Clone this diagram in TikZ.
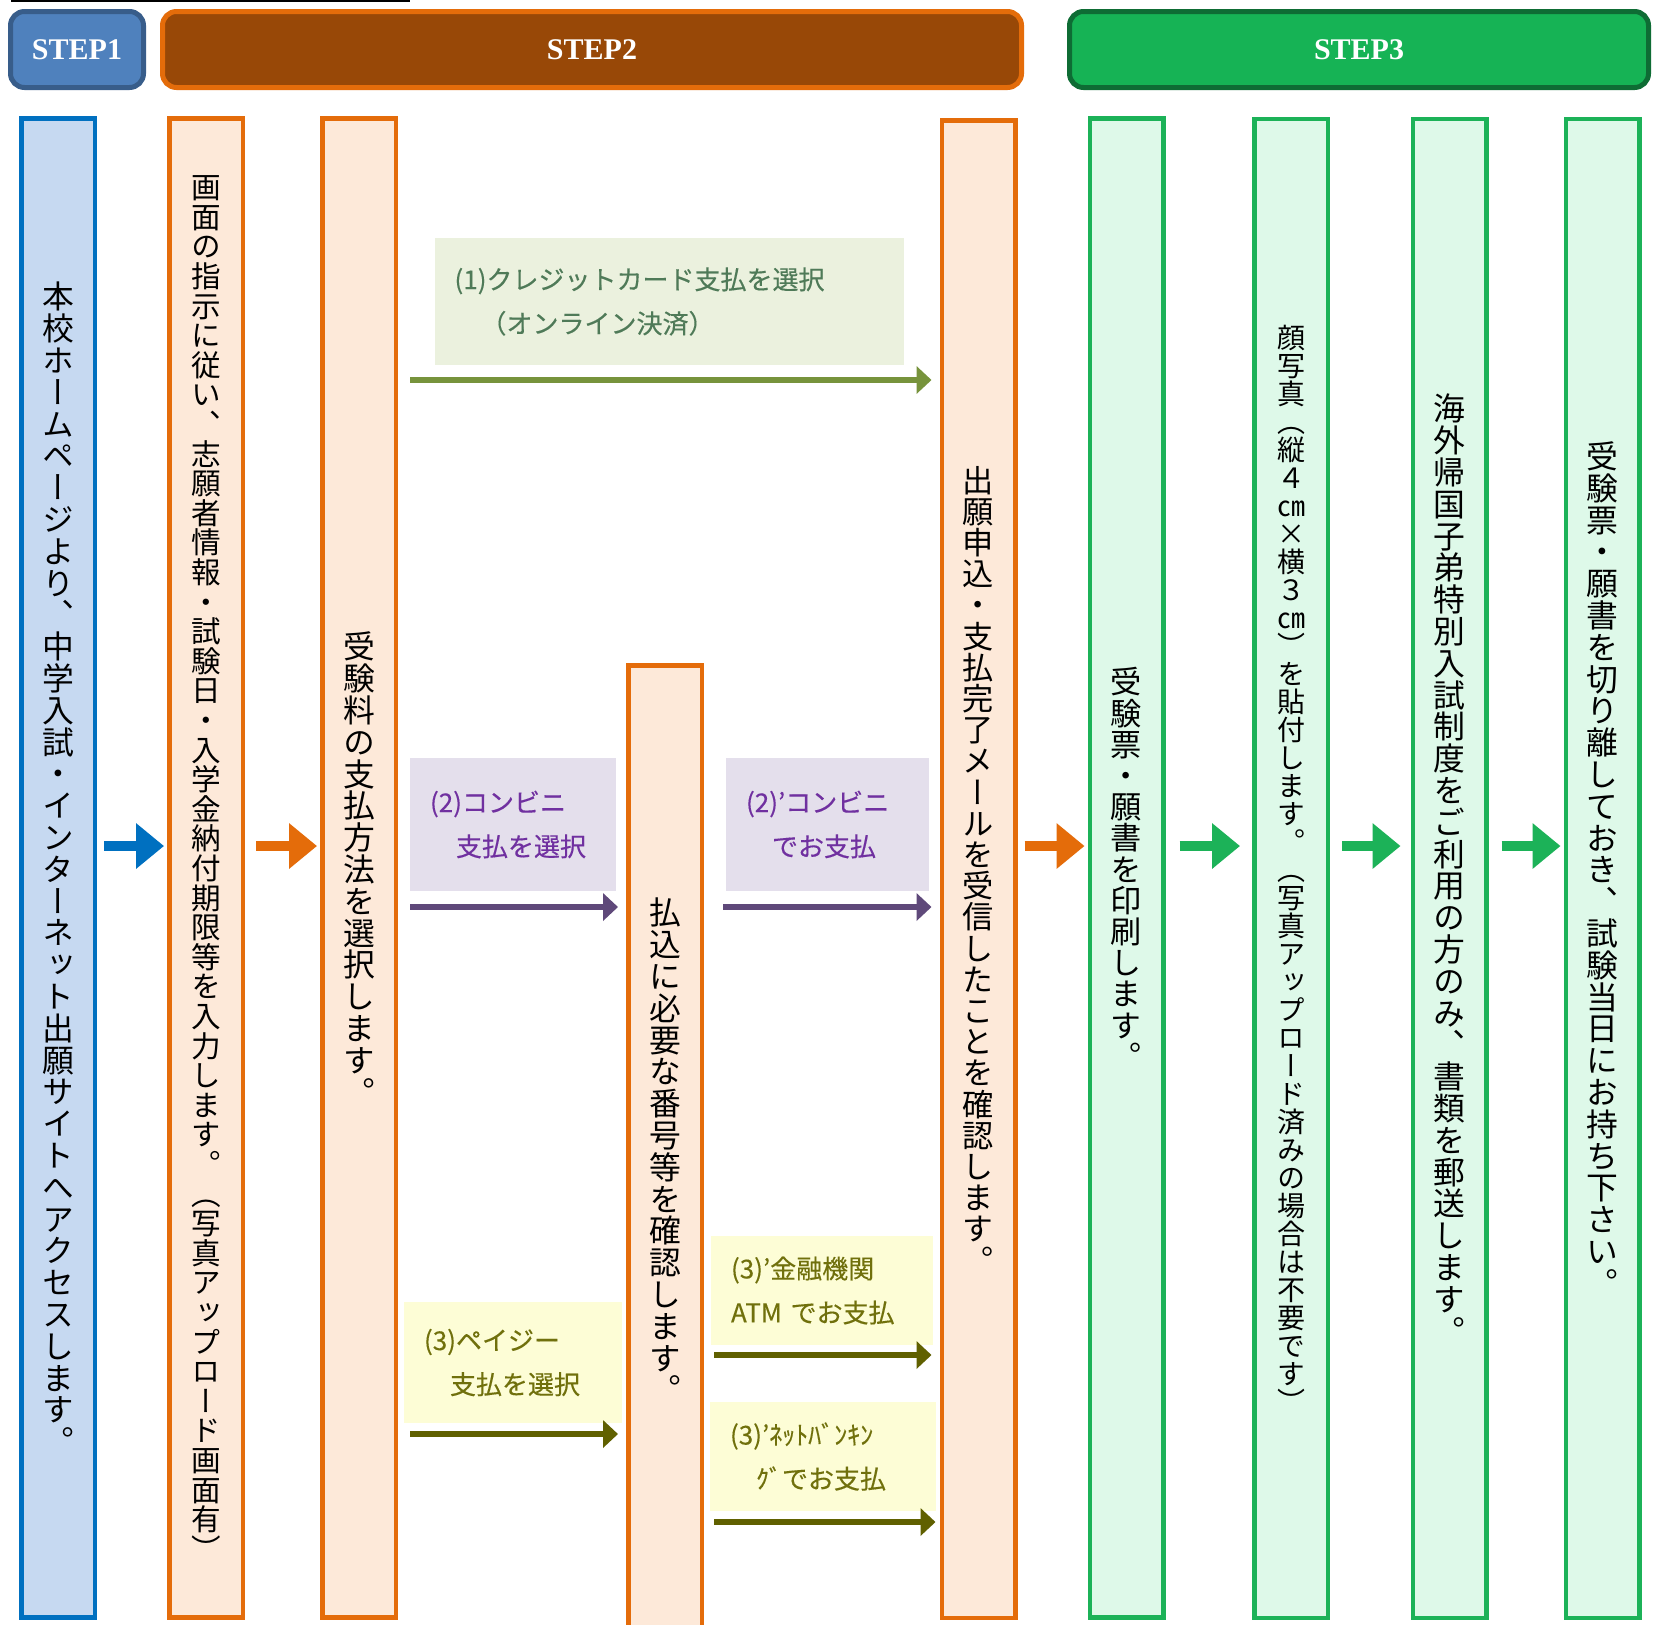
\documentclass[tikz,border=0pt]{standalone}
\usepackage{fontspec}
\usetikzlibrary{arrows.meta,calc}

\newfontfamily\jpfont[FakeBold=0.3]{Noto Sans CJK JP}
\newfontfamily\tatefont[RawFeature=+vert]{Noto Sans CJK JP}
\newfontfamily\stepfont{Liberation Serif}

\definecolor{stepblue}{RGB}{79,129,189}
\definecolor{stepblueline}{RGB}{56,93,138}
\definecolor{stepbrown}{RGB}{152,72,7}
\definecolor{stepgreen}{RGB}{22,179,85}
\definecolor{stepgreenline}{RGB}{14,108,52}
\definecolor{blueline}{RGB}{0,112,192}
\definecolor{bluefill}{RGB}{198,217,241}
\definecolor{orangeline}{RGB}{228,108,10}
\definecolor{orangefill}{RGB}{253,233,217}
\definecolor{greenline}{RGB}{28,178,88}
\definecolor{greenfill}{RGB}{222,249,233}
\definecolor{cardfill}{RGB}{235,241,222}
\definecolor{cardtext}{RGB}{79,122,88}
\definecolor{cardline}{RGB}{119,147,60}
\definecolor{cvsfill}{RGB}{228,223,236}
\definecolor{cvstext}{RGB}{112,48,160}
\definecolor{cvsline}{RGB}{95,73,122}
\definecolor{bankfill}{RGB}{253,253,214}
\definecolor{banktext}{RGB}{112,112,12}
\definecolor{bankline}{RGB}{96,96,0}

% one character per line, upright
\ExplSyntaxOn
\NewDocumentCommand \vtext { m m }
  {
    \vbox
      {
        \tatefont \fontsize{#1}{#1}\selectfont
        \baselineskip = #1 pt
        \lineskiplimit = -\maxdimen
        \tl_map_inline:nn {#2} { \hbox_to_wd:nn { #1 pt } { \hss ##1 \hss } }
      }
  }
\ExplSyntaxOff

\begin{document}
\begin{tikzpicture}[
    x=0.5pt, y=-0.5pt,
    col/.style={rectangle, line width=2.25pt, minimum width=36.75pt, minimum height=749.5pt, inner sep=0pt},
    colblue/.style={col, draw=blueline, fill=bluefill},
    colorange/.style={col, draw=orangeline, fill=orangefill},
    colgreen/.style={col, draw=greenline, fill=greenfill},
    stepbox/.style={rectangle, rounded corners=7pt, line width=2.5pt, minimum height=38pt,
                    text=white, font=\stepfont\bfseries\fontsize{15}{15}\selectfont},
    pay/.style={rectangle, inner xsep=10pt, inner ysep=0pt, align=left,
                font=\jpfont\fontsize{13}{22}\selectfont},
    card/.style={pay, fill=cardfill, text=cardtext},
    cvs/.style={pay, fill=cvsfill, text=cvstext},
    bank/.style={pay, fill=bankfill, text=banktext},
    steparrow/.style={line width=5pt, -{Triangle[length=14pt,width=22pt]}, shorten <=3.5pt, shorten >=1.5pt},
    payarrow/.style={line width=3pt, -{Triangle[length=7.5pt,width=13.5pt]}, shorten <=6pt, shorten >=4pt}
  ]

  \path[use as bounding box, fill=white] (0,0) rectangle (1657,1624);
  \clip (0,0) rectangle (1657,1624);

  \draw[line width=0.75pt] (11,1) -- (410,1);

  \node (step1) [stepbox, draw=stepblueline, fill=stepblue, minimum width=66.5pt]   at (77,49.5)   {STEP1};
  \node (step2) [stepbox, draw=orangeline, fill=stepbrown, minimum width=429.5pt]   at (592,49.5)  {STEP2};
  \node (step3) [stepbox, draw=stepgreenline, fill=stepgreen, minimum width=289.5pt] at (1359,49.5) {STEP3};

  \node (access)  [colblue]   at (58,868)     {\vtext{15.9}{本校ホームページより、中学入試・インターネット出願サイトへアクセスします。}};
  \node (entry)   [colorange] at (206,868)    {\vtext{14.8}{画面の指示に従い、志願者情報・試験日・入学金納付期限等を入力します。（写真アップロード画面有）}};
  \node (method)  [colorange] at (359,868)    {\vtext{15.9}{受験料の支払方法を選択します。}};
  \node (number)  [colorange, minimum height=484.75pt]
                              at (665,1150)   {\vtext{15.9}{払込に必要な番号等を確認します。}};
  \node (confirm) [colorange, minimum height=748.75pt]
                              at (978.5,869)  {\vtext{15.6}{出願申込・支払完了メールを受信したことを確認します。}};
  \node (print)   [colgreen]  at (1126.5,868) {\vtext{15.6}{受験票・願書を印刷します。}};
  \node (photo)   [colgreen]  at (1291,868.5) {\vtext{14}{顔写真（縦４㎝×横３㎝）を貼付します。（写真アップロード済みの場合は不要です）}};
  \node (abroad)  [colgreen]  at (1449.5,868.5) {\vtext{15.9}{海外帰国子弟特別入試制度をご利用の方のみ、書類を郵送します。}};
  \node (bring)   [colgreen]  at (1602.5,868.5) {\vtext{15.9}{受験票・願書を切り離しておき、試験当日にお持ち下さい。}};

  \node (credit)     [card, text width=214.5pt, minimum height=63.5pt] at (669,301.5)
                     {(1)クレジットカード支払を選択\\　（オンライン決済）};
  \node (konbini)    [cvs, text width=83pt, minimum height=66.5pt]     at (513,824.5)
                     {(2)コンビニ\\　支払を選択};
  \node (konbinipay) [cvs, text width=81.5pt, minimum height=66.5pt]   at (827.5,824.5)
                     {(2)’コンビニ\\　でお支払};
  \node (payeasy)    [bank, text width=89pt, minimum height=60.5pt]    at (513,1362.5)
                     {(3)ペイジー\\　支払を選択};
  \node (atm)        [bank, text width=91pt, minimum height=54.5pt]    at (822,1290.5)
                     {(3)’金融機関\\ATM でお支払};
  \node (netbank)    [bank, text width=93pt, minimum height=54.5pt]    at (823,1456.5)
                     {(3)’ﾈｯﾄﾊﾞﾝｷﾝ\\　ｸﾞでお支払};

  \coordinate (flow)  at (0,846);
  \coordinate (row1)  at (0,380);
  \coordinate (row2)  at (0,907);
  \coordinate (row3)  at (0,1434);
  \coordinate (row3a) at (0,1355);
  \coordinate (row3b) at (0,1522);

  \draw[steparrow, blueline]                       (access.east |- flow)  -- (entry.west |- flow);
  \draw[steparrow, orangeline, shorten <=5.5pt]    (entry.east |- flow)   -- (method.west |- flow);
  \draw[steparrow, orangeline]                     (confirm.east |- flow) -- (print.west |- flow);
  \draw[steparrow, greenline, shorten <=7pt, shorten >=6pt] (print.east |- flow)  -- (photo.west |- flow);
  \draw[steparrow, greenline, shorten <=6pt, shorten >=5pt] (photo.east |- flow)  -- (abroad.west |- flow);
  \draw[steparrow, greenline, shorten <=6.5pt]     (abroad.east |- flow)  -- (bring.west |- flow);

  \draw[payarrow, cardline]                        (method.east |- row1)  -- (confirm.west |- row1);
  \draw[payarrow, cvsline]                         (method.east |- row2)  -- (number.west |- row2);
  \draw[payarrow, cvsline, shorten <=9.5pt]        (number.east |- row2)  -- (confirm.west |- row2);
  \draw[payarrow, bankline]                        (method.east |- row3)  -- (number.west |- row3);
  \draw[payarrow, bankline, shorten <=5pt]         (number.east |- row3a) -- (confirm.west |- row3a);
  \draw[payarrow, bankline, shorten <=5pt, shorten >=2pt] (number.east |- row3b) -- (confirm.west |- row3b);
\end{tikzpicture}
\end{document}
